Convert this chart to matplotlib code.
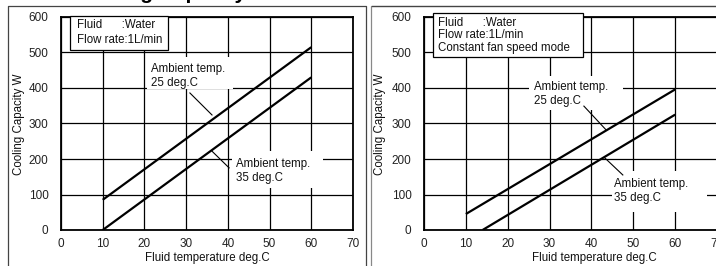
import matplotlib
matplotlib.use("Agg")
import matplotlib.pyplot as plt
from matplotlib.lines import Line2D
from matplotlib.patches import Rectangle

plt.rcParams['font.family'] = ['Liberation Sans', 'DejaVu Sans']

# ---- data ----
title = "Cooling Capacity"
x_ticks = [0, 10, 20, 30, 40, 50, 60, 70]
y_ticks = [0, 100, 200, 300, 400, 500, 600]
x_label = "Fluid temperature deg.C"
y_label = "Cooling Capacity W"

left_x25 = [10, 60]
left_y25 = [85, 515]
left_x35 = [10, 60]
left_y35 = [0, 430]

right_x25 = [10, 60]
right_y25 = [45, 396]
right_x35 = [14, 60]
right_y35 = [0, 325]

left_info = ["Fluid      :Water", "Flow rate:1L/min"]
right_info = ["Fluid      :Water", "Flow rate:1L/min", "Constant fan speed mode"]
label25 = "Ambient temp.\n25 deg.C"
label35 = "Ambient temp.\n35 deg.C"

W, H = 716, 266
fig = plt.figure(figsize=(W / 100, H / 100), dpi=100)


def fx(px):
    return px / W


def fy(py):
    return 1 - py / H


AX_TOP, AX_BOT = 17, 230


def make_axes(x0, x1):
    ax = fig.add_axes([fx(x0), fy(AX_BOT), (x1 - x0) / W, (AX_BOT - AX_TOP) / H])
    ax.set_xlim(0, 70)
    ax.set_ylim(0, 600)
    ax.set_xticks(x_ticks)
    ax.set_yticks(y_ticks)
    ax.tick_params(axis='both', length=0, labelsize=8.5, colors='#222222')
    ax.tick_params(axis='y', pad=9)
    ax.tick_params(axis='x', pad=6)
    ax.grid(True, color='black', linewidth=0.9, zorder=0)
    ax.set_axisbelow(True)
    for s in ax.spines.values():
        s.set_linewidth(1.3)
        s.set_color('black')
    return ax


def axfrac(ax, x0, x1, px, py):
    return ((px - x0) / (x1 - x0), (AX_BOT - py) / (AX_BOT - AX_TOP))


def white_rect(ax, x0, x1, px0, py0, px1, py1):
    a = axfrac(ax, x0, x1, px0, py1)
    b = axfrac(ax, x0, x1, px1, py0)
    ax.add_patch(Rectangle(a, b[0] - a[0], b[1] - a[1], transform=ax.transAxes,
                           facecolor='white', edgecolor='none', zorder=1.5, clip_on=False))


def info_box(ax, x0, x1, px0, py0, px1, py1, lines, tx, tys):
    a = axfrac(ax, x0, x1, px0, py1)
    b = axfrac(ax, x0, x1, px1, py0)
    ax.add_patch(Rectangle(a, b[0] - a[0], b[1] - a[1], transform=ax.transAxes,
                           facecolor='white', edgecolor='black', linewidth=0.9,
                           zorder=4, clip_on=False))
    for line, ty in zip(lines, tys):
        p = axfrac(ax, x0, x1, tx, ty)
        ax.text(p[0], p[1], line, transform=ax.transAxes, fontsize=8.3,
                ha='left', va='center', zorder=5, color='#111111')


def ann(ax, x0, x1, text, tx, ty):
    p = axfrac(ax, x0, x1, tx, ty)
    ax.text(p[0], p[1], text, transform=ax.transAxes, fontsize=8.3,
            ha='left', va='center', linespacing=1.25, zorder=3, color='#111111')


# ---- left panel ----
L0, L1 = 61, 353
axL = make_axes(L0, L1)
axL.plot(left_x25, left_y25, color='black', lw=1.6, zorder=3, solid_capstyle='butt')
axL.plot(left_x35, left_y35, color='black', lw=1.6, zorder=3, solid_capstyle='butt')
white_rect(axL, L0, L1, 147, 57, 233, 89)
ann(axL, L0, L1, label25, 151, 76)
axL.plot([30.9, 36.2], [386, 324], color='black', lw=0.8, zorder=3)
white_rect(axL, L0, L1, 232, 151, 323, 188)
ann(axL, L0, L1, label35, 236, 171)
axL.plot([36.2, 40.3], [222, 175], color='black', lw=0.8, zorder=3)
info_box(axL, L0, L1, 70, 16, 168, 50, left_info, 77, [25, 40])

# ---- right panel ----
R0, R1 = 424, 717
axR = make_axes(R0, R1)
axR.plot(right_x25, right_y25, color='black', lw=1.6, zorder=3, solid_capstyle='butt')
axR.plot(right_x35, right_y35, color='black', lw=1.6, zorder=3, solid_capstyle='butt')
white_rect(axR, R0, R1, 529, 76, 623, 110)
ann(axR, R0, R1, label25, 534, 94)
axR.plot([38.2, 43.5], [349, 282], color='black', lw=0.8, zorder=3)
white_rect(axR, R0, R1, 612, 171, 707, 212)
ann(axR, R0, R1, label35, 614, 191)
axR.plot([43.2, 47.5], [203, 155], color='black', lw=0.8, zorder=3)
info_box(axR, R0, R1, 433, 13, 583, 57, right_info, 438, [23, 35.5, 48])

# ---- axis labels ----
fig.text(fx(19), fy(124), y_label, rotation=90, ha='center', va='center', fontsize=8.3, color='#111111')
fig.text(fx(380), fy(124), y_label, rotation=90, ha='center', va='center', fontsize=8.3, color='#111111')
fig.text(fx(207), fy(258), x_label, ha='center', va='center', fontsize=8.3, color='#111111')
fig.text(fx(594), fy(258), x_label, ha='center', va='center', fontsize=8.3, color='#111111')

# ---- title (cropped at top) ----
fig.text(fx(75), fy(-1), title, ha='left', va='baseline', fontsize=15, fontweight='bold')

# ---- panel frames ----
fig.add_artist(Line2D([fx(8), fx(8), fx(366), fx(366)], [fy(270), fy(5.5), fy(5.5), fy(270)],
                      transform=fig.transFigure, color='#444444', lw=0.9))
fig.add_artist(Line2D([fx(371), fx(371), fx(720)], [fy(270), fy(5.5), fy(5.5)],
                      transform=fig.transFigure, color='#888888', lw=0.9))
fig.add_artist(Line2D([fx(372), fx(720)], [fy(5.5), fy(5.5)],
                      transform=fig.transFigure, color='#444444', lw=0.9))

fig.savefig("out.png", dpi=100)
